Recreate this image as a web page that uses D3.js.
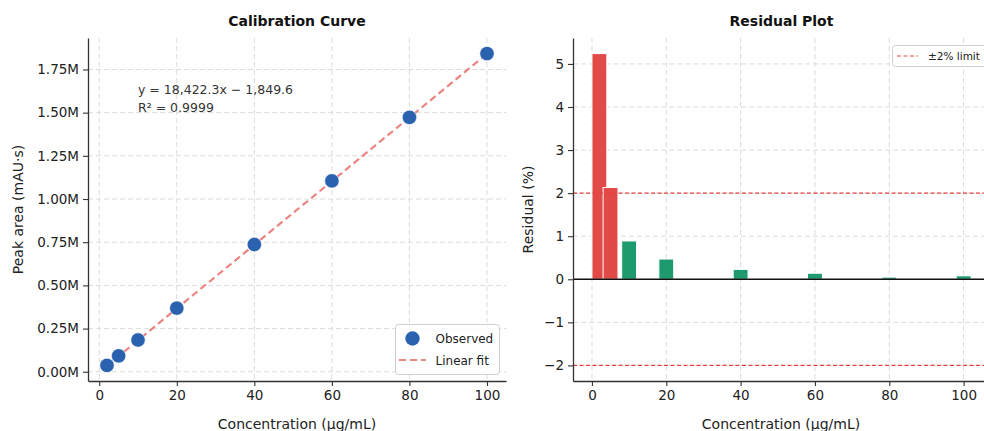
<!DOCTYPE html>
<html>
<head>
<meta charset="utf-8">
<script src="https://cdn.jsdelivr.net/npm/d3@7"></script>
<style>
  html, body { margin: 0; padding: 0; background: #fff; }
  svg { display: block; font-family: "DejaVu Sans", sans-serif; }
</style>
</head>
<body>
<svg id="chart" width="984" height="431"></svg>
<script>
// Standard concentrations (µg/mL)
const concentrations = [2, 5, 10, 20, 40, 60, 80, 100];
// Observed peak areas (mAU·s)
const peakAreas = [36800, 92200, 184000, 368400, 736800, 1105000, 1472700, 1841900];
// Residuals of each standard against the fit (%)
const residuals = [5.24, 2.13, 0.89, 0.47, 0.23, 0.14, 0.05, 0.08];
// Fit parameters
const slope = 18422.3;
const intercept = -1849.6;
const rSquared = 0.9999;
const limitPct = 2;
const xTicks = [0, 20, 40, 60, 80, 100];
const yTicksArea = [0, 250000, 500000, 750000, 1000000, 1250000, 1500000, 1750000];
const yTicksResid = [-2, -1, 0, 1, 2, 3, 4, 5];

const svg = d3.select("#chart");
const axisColor = "#333";
const gridColor = "#dcdcdc";
const limitColor = "#e5443f";
const fitColor = "#e8706c";
const fmtNum = d3.format(",.1f");

function pad(lo, hi, f = 0.05) { const r = hi - lo; return [lo - r * f, hi + r * f]; }

function styleAxis(g) {
  g.selectAll(".domain").attr("stroke", axisColor).attr("stroke-width", 1.3);
  g.selectAll(".tick line").attr("stroke", axisColor).attr("stroke-width", 1.1);
  g.selectAll(".tick text").attr("fill", "#222").attr("font-size", "13.5px")
    .attr("font-family", "DejaVu Sans, sans-serif");
}

/* ---------- Calibration curve ---------- */
const L = { left: 88, right: 506, top: 38, bottom: 381 };
const xMin = d3.min(concentrations), xMax = d3.max(concentrations);
const xL = d3.scaleLinear().domain(pad(xMin, xMax)).range([L.left, L.right]);
const yL = d3.scaleLinear().domain(pad(d3.min(peakAreas), d3.max(peakAreas))).range([L.bottom, L.top]);

const gL = svg.append("g");
// grid
gL.append("g").selectAll("line").data(xTicks).join("line")
  .attr("x1", d => xL(d)).attr("x2", d => xL(d)).attr("y1", L.top).attr("y2", L.bottom)
  .attr("stroke", gridColor).attr("stroke-dasharray", "5,3").attr("stroke-width", 1);
gL.append("g").selectAll("line").data(yTicksArea).join("line")
  .attr("x1", L.left).attr("x2", L.right).attr("y1", d => yL(d)).attr("y2", d => yL(d))
  .attr("stroke", gridColor).attr("stroke-dasharray", "5,3").attr("stroke-width", 1);

// fit line
gL.append("line")
  .attr("x1", xL(xMin)).attr("y1", yL(slope * xMin + intercept))
  .attr("x2", xL(xMax)).attr("y2", yL(slope * xMax + intercept))
  .attr("stroke", fitColor).attr("stroke-opacity", 0.85).attr("stroke-width", 2.2)
  .attr("stroke-dasharray", "7,4");

// observed points
gL.append("g").selectAll("circle").data(concentrations).join("circle")
  .attr("cx", d => xL(d)).attr("cy", (d, i) => yL(peakAreas[i])).attr("r", 7.2)
  .attr("fill", "#2b62b0").attr("stroke", "#ffffff").attr("stroke-width", 0.6);

// axes
gL.append("g").attr("transform", `translate(0,${L.bottom})`)
  .call(d3.axisBottom(xL).tickValues(xTicks).tickSize(5).tickSizeOuter(0).tickPadding(4).tickFormat(d3.format("d")))
  .call(styleAxis);
gL.append("g").attr("transform", `translate(${L.left},0)`)
  .call(d3.axisLeft(yL).tickValues(yTicksArea).tickSize(5).tickSizeOuter(0).tickPadding(4).tickFormat(d => (d / 1e6).toFixed(2) + "M"))
  .call(styleAxis);

// equation annotation
gL.append("text").attr("x", 138).attr("y", 94).attr("font-size", "12.5px").attr("fill", "#333")
  .text(`y = ${fmtNum(slope)}x \u2212 ${fmtNum(Math.abs(intercept))}`);
gL.append("text").attr("x", 138).attr("y", 112).attr("font-size", "12.5px").attr("fill", "#333")
  .text(`R\u00b2 = ${rSquared.toFixed(4)}`);

// titles and labels
svg.append("text").attr("x", (L.left + L.right) / 2).attr("y", 26).attr("text-anchor", "middle")
  .attr("font-size", "14px").attr("font-weight", "bold").attr("fill", "#111").text("Calibration Curve");
svg.append("text").attr("x", (L.left + L.right) / 2).attr("y", 429).attr("text-anchor", "middle")
  .attr("font-size", "14px").attr("fill", "#222").text("Concentration (\u00b5g/mL)");
svg.append("text").attr("transform", `translate(23,${(L.top + L.bottom) / 2}) rotate(-90)`)
  .attr("text-anchor", "middle").attr("font-size", "14px").attr("fill", "#222").text("Peak area (mAU\u00b7s)");

// legend
const lg = svg.append("g");
lg.append("rect").attr("x", 395.5).attr("y", 324.5).attr("width", 104).attr("height", 50).attr("rx", 3)
  .attr("fill", "#fff").attr("fill-opacity", 0.85).attr("stroke", "#d0d0d0");
lg.append("circle").attr("cx", 412.5).attr("cy", 338.5).attr("r", 7.2).attr("fill", "#2b62b0");
lg.append("text").attr("x", 435.5).attr("y", 343).attr("font-size", "12px").attr("fill", "#222").text("Observed");
lg.append("line").attr("x1", 399).attr("x2", 426).attr("y1", 360).attr("y2", 360)
  .attr("stroke", fitColor).attr("stroke-opacity", 0.85).attr("stroke-width", 2.2).attr("stroke-dasharray", "7,4");
lg.append("text").attr("x", 435.5).attr("y", 364.5).attr("font-size", "12px").attr("fill", "#222").text("Linear fit");

/* ---------- Residual plot ---------- */
const R = { left: 573, right: 990, top: 38, bottom: 381 };
const barW = 4;
const xR = d3.scaleLinear().domain(pad(xMin - barW / 2, xMax + barW / 2)).range([R.left, R.right]);
const yR = d3.scaleLinear().domain(pad(Math.min(-limitPct, d3.min(residuals)), Math.max(limitPct, d3.max(residuals)))).range([R.bottom, R.top]);

const gR = svg.append("g");
gR.append("g").selectAll("line").data(xTicks).join("line")
  .attr("x1", d => xR(d)).attr("x2", d => xR(d)).attr("y1", R.top).attr("y2", R.bottom)
  .attr("stroke", gridColor).attr("stroke-dasharray", "5,3").attr("stroke-width", 1);
gR.append("g").selectAll("line").data(yTicksResid).join("line")
  .attr("x1", R.left).attr("x2", R.right).attr("y1", d => yR(d)).attr("y2", d => yR(d))
  .attr("stroke", gridColor).attr("stroke-dasharray", "5,3").attr("stroke-width", 1);

// bars: red where the residual exceeds the limit
gR.append("g").selectAll("rect").data(concentrations).join("rect")
  .attr("x", d => xR(d - barW / 2)).attr("width", d => xR(d + barW / 2) - xR(d - barW / 2))
  .attr("y", (d, i) => yR(Math.max(0, residuals[i])))
  .attr("height", (d, i) => Math.abs(yR(residuals[i]) - yR(0)))
  .attr("fill", (d, i) => Math.abs(residuals[i]) > limitPct ? "#e24a48" : "#1d9a6e")
  .attr("stroke", "#fff").attr("stroke-width", 1);

// zero line
gR.append("line").attr("x1", R.left).attr("x2", R.right).attr("y1", yR(0)).attr("y2", yR(0))
  .attr("stroke", "#111").attr("stroke-width", 1.3);
// limit lines
gR.append("g").selectAll("line").data([limitPct, -limitPct]).join("line")
  .attr("x1", R.left).attr("x2", R.right).attr("y1", d => yR(d)).attr("y2", d => yR(d))
  .attr("stroke", limitColor).attr("stroke-width", 1.1).attr("stroke-dasharray", "4,2.5");

gR.append("g").attr("transform", `translate(0,${R.bottom})`)
  .call(d3.axisBottom(xR).tickValues(xTicks).tickSize(5).tickSizeOuter(0).tickPadding(4).tickFormat(d3.format("d")))
  .call(styleAxis);
gR.append("g").attr("transform", `translate(${R.left},0)`)
  .call(d3.axisLeft(yR).tickValues(yTicksResid).tickSize(5).tickSizeOuter(0).tickPadding(4).tickFormat(d => d < 0 ? "\u2212" + Math.abs(d) : d))
  .call(styleAxis);

svg.append("text").attr("x", (R.left + R.right) / 2).attr("y", 26).attr("text-anchor", "middle")
  .attr("font-size", "14px").attr("font-weight", "bold").attr("fill", "#111").text("Residual Plot");
svg.append("text").attr("x", 781).attr("y", 429).attr("text-anchor", "middle")
  .attr("font-size", "14px").attr("fill", "#222").text("Concentration (\u00b5g/mL)");
svg.append("text").attr("transform", `translate(533,${(R.top + R.bottom) / 2}) rotate(-90)`)
  .attr("text-anchor", "middle").attr("font-size", "14px").attr("fill", "#222").text("Residual (%)");

// limit legend
const lg2 = svg.append("g");
lg2.append("rect").attr("x", 892.5).attr("y", 45.5).attr("width", 100).attr("height", 21).attr("rx", 3)
  .attr("fill", "#fff").attr("fill-opacity", 0.85).attr("stroke", "#d0d0d0");
lg2.append("line").attr("x1", 897).attr("x2", 918).attr("y1", 56).attr("y2", 56)
  .attr("stroke", limitColor).attr("stroke-width", 1.2).attr("stroke-dasharray", "4,2.5");
lg2.append("text").attr("x", 928).attr("y", 59.5).attr("font-size", "10.5px").attr("fill", "#222").text("\u00b12% limit");
</script>
</body>
</html>
